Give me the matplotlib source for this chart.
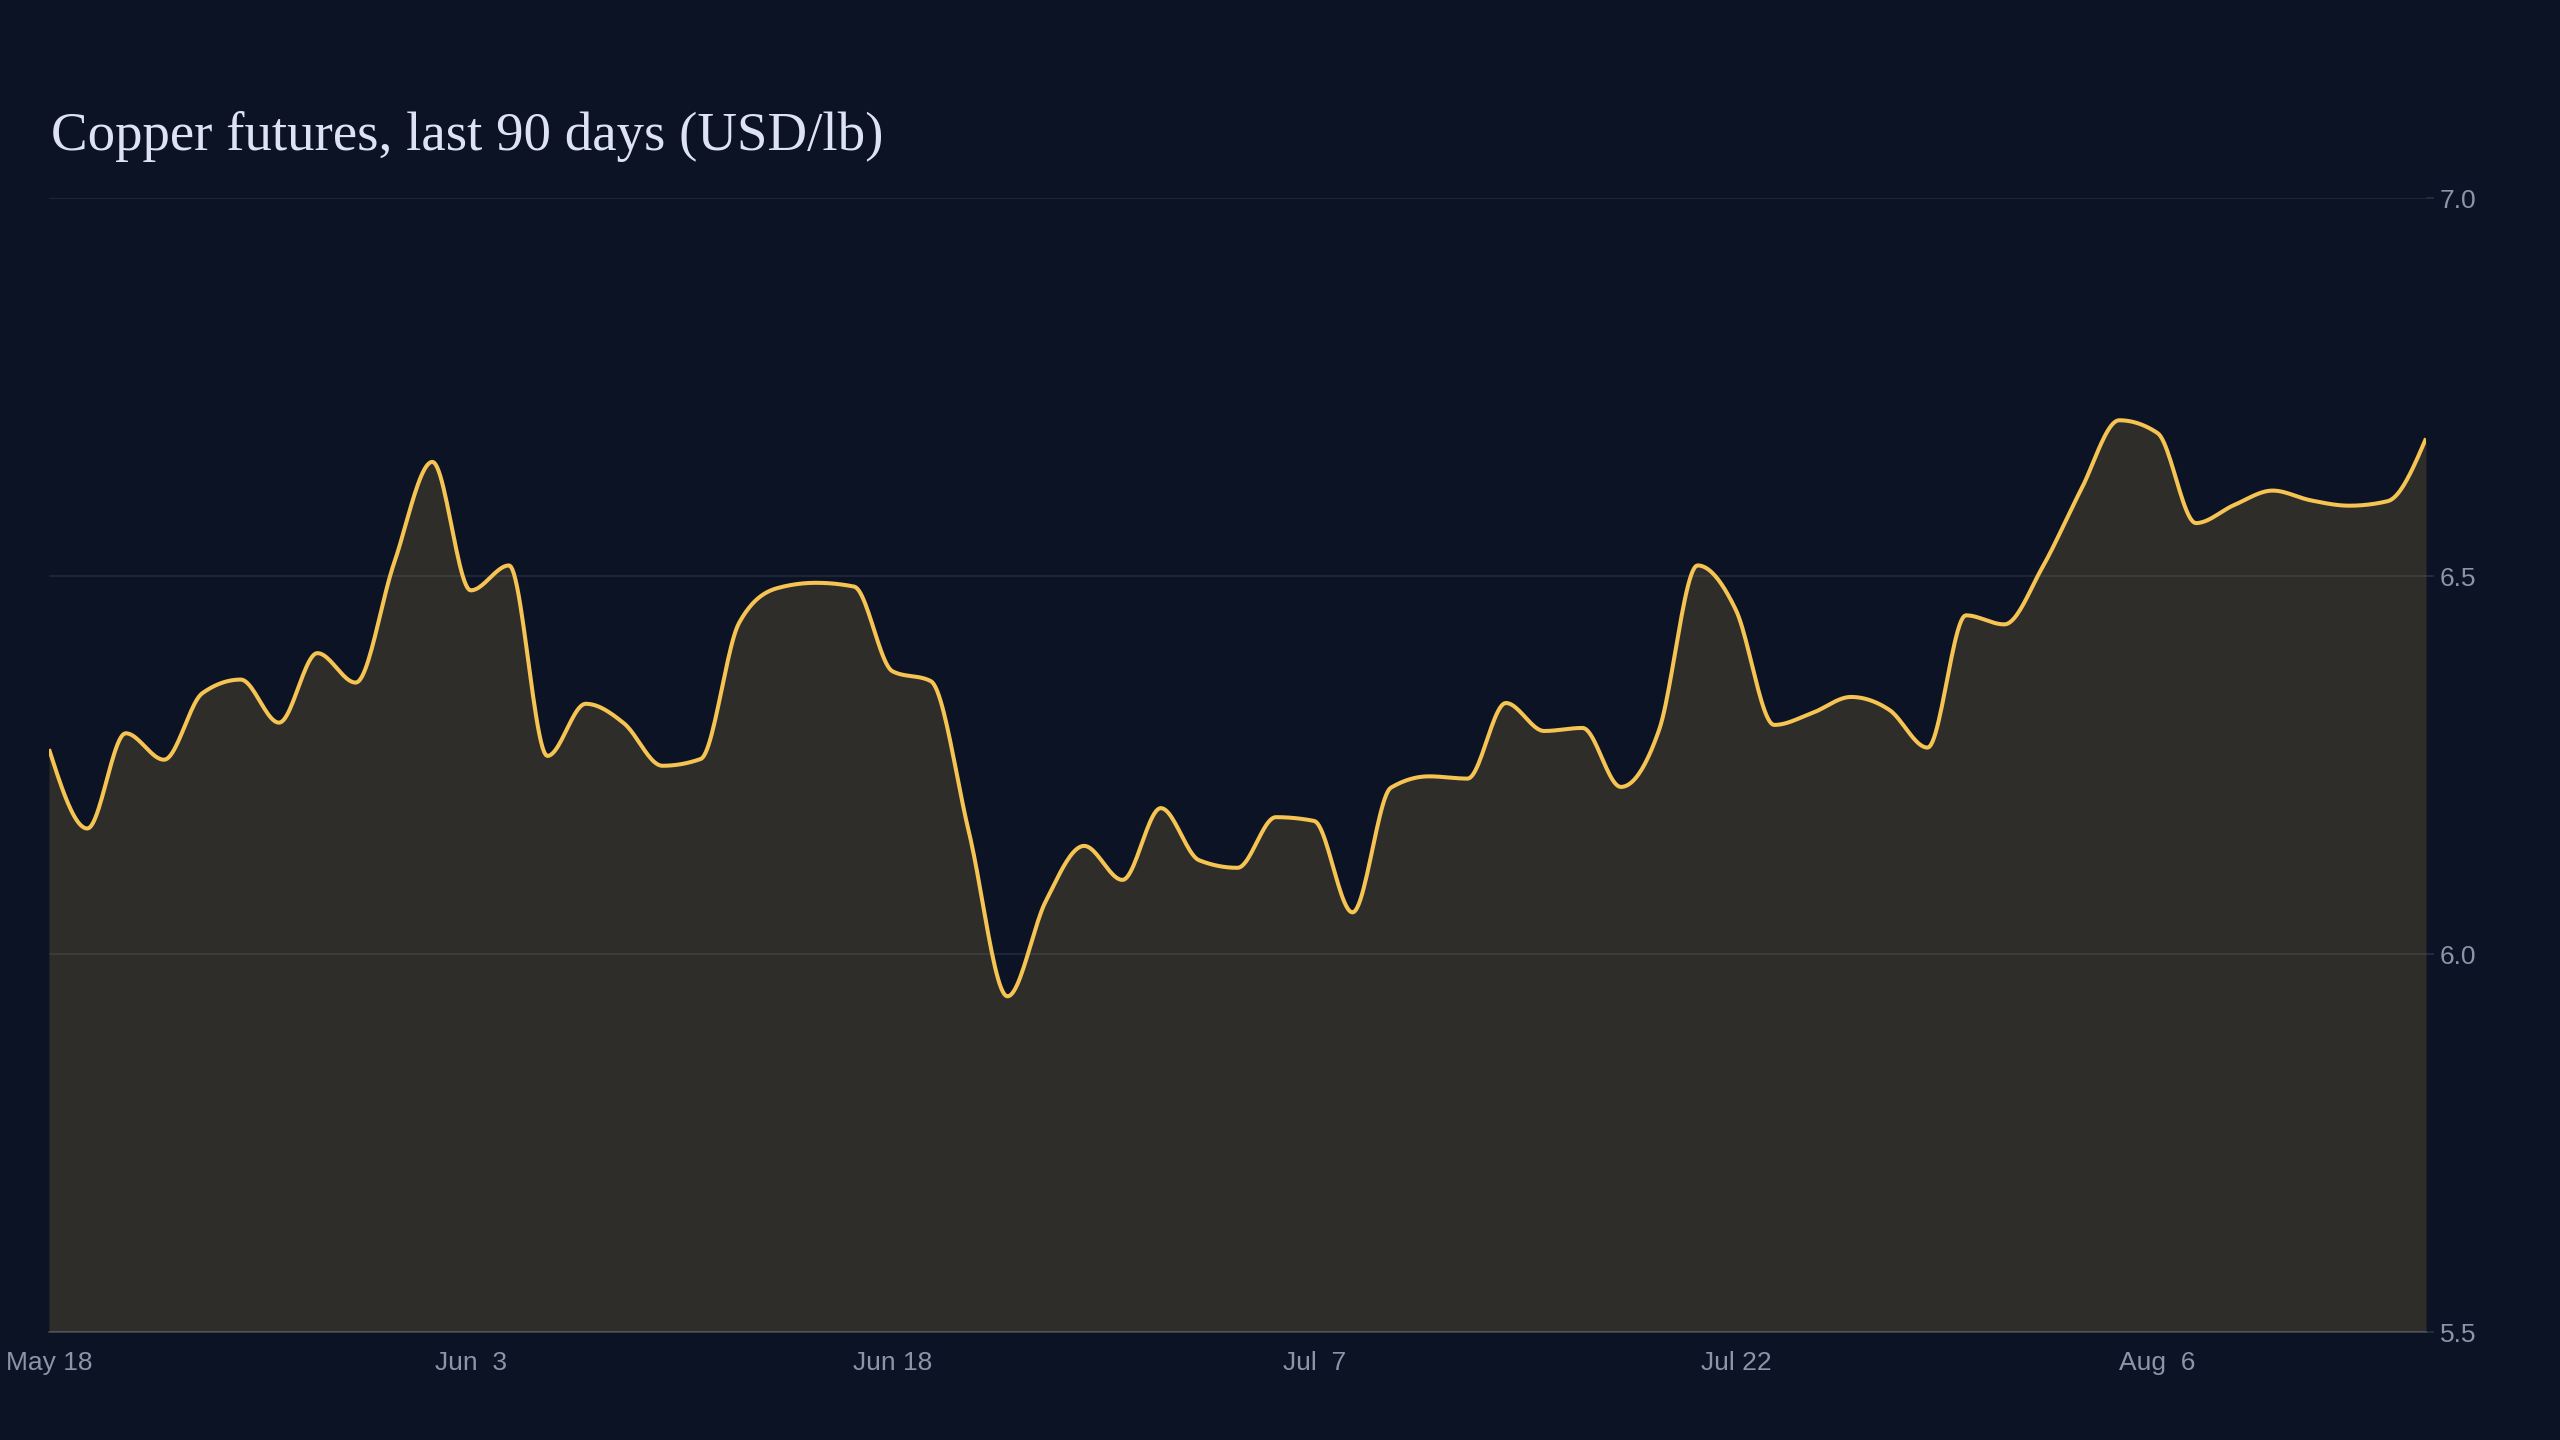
import numpy as np
import matplotlib
matplotlib.use("Agg")
import matplotlib.pyplot as plt

# daily settle, USD/lb, one value per trading day (May 18 .. Aug 17)
prices = [
    6.271, 6.166, 6.292, 6.257, 6.345, 6.363, 6.306, 6.398, 6.359, 6.517,
    6.651, 6.481, 6.514, 6.262, 6.331, 6.305, 6.249, 6.258, 6.438, 6.484,
    6.491, 6.486, 6.374, 6.361, 6.160, 5.944, 6.070, 6.143, 6.098, 6.193,
    6.124, 6.114, 6.181, 6.176, 6.055, 6.220, 6.235, 6.232, 6.332, 6.295,
    6.299, 6.221, 6.297, 6.514, 6.455, 6.303, 6.319, 6.340, 6.323, 6.273,
    6.448, 6.436, 6.512, 6.614, 6.706, 6.689, 6.570, 6.594, 6.613, 6.600,
    6.593, 6.599, 6.682,
]
tick_labels = ["May 18", "Jun  3", "Jun 18", "Jul  7", "Jul 22", "Aug  6"]
y_ticks = [5.5, 6.0, 6.5, 7.0]

BG = "#0c1324"
LINE = "#f6c453"
GRID = "#94a3b8"
MUTED = "#8b94a8"


def monotone_x(x, y, n=24):
    # same shape as d3.curveMonotoneX
    x = np.asarray(x, float)
    y = np.asarray(y, float)
    h = np.diff(x)
    s = np.diff(y) / h
    m = np.zeros_like(y)
    for i in range(1, len(y) - 1):
        p = (s[i - 1] * h[i] + s[i] * h[i - 1]) / (h[i - 1] + h[i])
        m[i] = (np.sign(s[i - 1]) + np.sign(s[i])) * min(abs(s[i - 1]), abs(s[i]), 0.5 * abs(p))
    m[0] = (3 * s[0] - m[1]) / 2
    m[-1] = (3 * s[-1] - m[-2]) / 2
    xs, ys = [], []
    t = np.linspace(0, 1, n, endpoint=False)
    for i in range(len(y) - 1):
        h00 = 2 * t**3 - 3 * t**2 + 1
        h10 = t**3 - 2 * t**2 + t
        h01 = -2 * t**3 + 3 * t**2
        h11 = t**3 - t**2
        xs.append(x[i] + t * h[i])
        ys.append(h00 * y[i] + h10 * h[i] * m[i] + h01 * y[i + 1] + h11 * h[i] * m[i + 1])
    xs.append([x[-1]])
    ys.append([y[-1]])
    return np.concatenate(xs), np.concatenate(ys)


idx = np.arange(len(prices))
sx, sy = monotone_x(idx, prices)

fig = plt.figure(figsize=(25.6, 14.4), dpi=100, facecolor=BG)
ax = fig.add_axes([49 / 2560, 1 - 1332 / 1440, (2426 - 49) / 2560, (1332 - 198) / 1440])
ax.set_facecolor(BG)

ax.fill_between(sx, sy, y_ticks[0], color=LINE, alpha=0.15, linewidth=0, zorder=1)
ax.plot(sx, sy, color=LINE, linewidth=2.9, solid_capstyle="butt", zorder=3)

ax.set_xlim(0, len(prices) - 1)
ax.set_ylim(y_ticks[0], y_ticks[-1])

ax.yaxis.tick_right()
ax.set_yticks(y_ticks)
ax.set_yticklabels([f"{v:.1f}" for v in y_ticks])
ax.set_xticks(idx[::11][:len(tick_labels)])
ax.set_xticklabels(tick_labels)

ax.grid(axis="y", color=GRID, alpha=0.15, linewidth=1.2, zorder=2)
ax.grid(axis="x", visible=False)
for side in ["top", "left", "right"]:
    ax.spines[side].set_visible(False)
ax.spines["bottom"].set_color(GRID)
ax.spines["bottom"].set_alpha(0.3)
ax.spines["bottom"].set_linewidth(1.2)

ax.tick_params(axis="y", colors=MUTED, labelsize=19, length=6, width=1.2, pad=4,
               color=(0.58, 0.64, 0.72, 0.2))
ax.tick_params(axis="x", colors=MUTED, labelsize=19, length=0, pad=14)
for lbl in ax.get_xticklabels() + ax.get_yticklabels():
    lbl.set_fontfamily("Liberation Sans")

fig.text(51 / 2560, 1 - 150 / 1440, "Copper futures, last 90 days (USD/lb)",
         fontsize=39.5, family="Liberation Serif", color="#dde3f3", va="baseline", ha="left")

fig.savefig("out.png", dpi=100, facecolor=BG)
